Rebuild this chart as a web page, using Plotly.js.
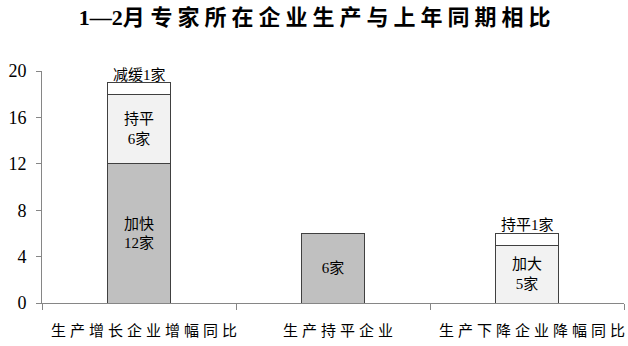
<!DOCTYPE html>
<html><head><meta charset="utf-8">
<script src="https://cdn.plot.ly/plotly-3.0.1.min.js"></script>
<style>html,body{margin:0;padding:0;background:#fff}
#chart .xtick text{letter-spacing:4px}</style>
</head><body><div id="chart" style="width:628px;height:346px"></div>
<script>
const titleLead = "1—2月";
const titleRest = "专家所在企业生产与上年同期相比";
const categories = ["生产增长企业增幅同比", "生产持平企业", "生产下降企业降幅同比"];
const lowerValues = [12, 6, null];
const lowerText = ["加快<br>12家", "6家", ""];
const middleValues = [6, null, 5];
const middleText = ["持平<br>6家", "", "加大<br>5家"];
const topValues = [1, null, 1];
const topText = ["减缓1家", "", "持平1家"];
const yTicks = [0, 4, 8, 12, 16, 20];

const txtFont = {family: "Liberation Serif, Noto Sans CJK SC", size: 15, color: "#000"};
const lineStyle = {color: "#404040", width: 1};
function trace(vals, text, color) {
  return {type: "bar", x: categories, y: vals, text: text, texttemplate: "%{text}",
    textposition: "inside", insidetextanchor: "middle", textangle: 0, constraintext: "none",
    insidetextfont: txtFont, marker: {color: color, line: lineStyle}, width: 0.32,
    hoverinfo: "none", cliponaxis: false};
}
const data = [
  trace(lowerValues, lowerText, "#C0C0C0"),
  trace(middleValues, middleText, "#F2F2F2"),
  trace(topValues, topText.map(() => ""), "#FFFFFF")
];
const annotations = [];
categories.forEach((c, i) => {
  if (topValues[i] == null) return;
  const total = (lowerValues[i] || 0) + (middleValues[i] || 0) + topValues[i];
  annotations.push({x: c, y: total, text: topText[i], showarrow: false, yanchor: "bottom",
    yshift: -2, font: txtFont});
});
const layout = {
  width: 628, height: 346, barmode: "stack", showlegend: false,
  margin: {l: 42, r: 4, t: 71, b: 43},
  paper_bgcolor: "#fff", plot_bgcolor: "#fff",
  title: {text: titleLead + " <span style='letter-spacing:5px'>" + titleRest + "</span>",
    x: 0.505, xanchor: "center", y: 0.95, yanchor: "middle",
    font: {family: "Liberation Serif, Noto Sans CJK SC", size: 22, weight: "bold", color: "#000"}},
  xaxis: {type: "category", range: [-0.5, 2.5], tickson: "boundaries", ticks: "outside", ticklen: 6,
    tickcolor: "#868686", showline: true, linecolor: "#868686", linewidth: 1, showgrid: false,
    tickfont: {family: "Noto Sans CJK SC", size: 15, color: "#000"}, ticklabelstandoff: 14,
    ticklabelshift: 7},
  yaxis: {range: [0, 20], tickvals: yTicks, ticks: "outside", ticklen: 5, tickcolor: "#868686",
    showline: true, linecolor: "#868686", linewidth: 1, showgrid: false, zeroline: false,
    tickfont: {family: "Liberation Serif", size: 18, color: "#000"}, ticklabelstandoff: 6},
  annotations: annotations
};
Plotly.newPlot("chart", data, layout, {staticPlot: true});
</script></body></html>
